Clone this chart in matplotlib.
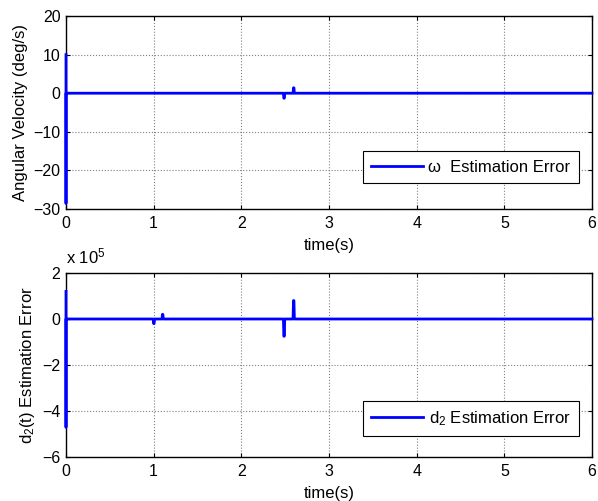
import numpy as np
import matplotlib.pyplot as plt

plt.rcParams['font.family'] = ['Liberation Sans', 'DejaVu Sans']
plt.rcParams['mathtext.fontset'] = 'custom'
plt.rcParams['mathtext.rm'] = 'Liberation Sans'
plt.rcParams['mathtext.it'] = 'Liberation Sans'

# omega estimation error (deg/s): mostly zero, transients at start and around t=2.5
omega_t = [0.0, 0.0, 0.0, 0.005, 2.48, 2.485, 2.49, 2.495, 2.59, 2.595, 2.60, 2.605, 6.0]
omega_err = [10.0, -28.5, 0.0, 0.0, 0.0, -1.3, -1.3, 0.0, 0.0, 1.4, 1.4, 0.0, 0.0]

# d2 estimation error (x 1e5): transients at start, t~1.0/1.1 and t~2.5/2.6
d2_t = [0.0, 0.0, 0.0, 0.005, 0.995, 1.0, 1.005, 1.01, 1.095, 1.10, 1.105, 1.11,
        2.48, 2.485, 2.49, 2.495, 2.59, 2.595, 2.60, 2.605, 6.0]
d2_err = [1.2, -4.7, 0.0, 0.0, 0.0, -0.2, -0.2, 0.0, 0.0, 0.2, 0.2, 0.0,
          0.0, -0.75, -0.75, 0.0, 0.0, 0.8, 0.8, 0.0, 0.0]

omega_yticks = [-30, -20, -10, 0, 10, 20]
d2_yticks = [-6, -4, -2, 0, 2]
x_ticks = [0, 1, 2, 3, 4, 5, 6]

TICK_FS = 11.5
LABEL_FS = 12


def style_axes(ax):
    ax.set_xlim(0, 6)
    ax.set_xticks(x_ticks)
    ax.grid(True, color='#808080', linestyle=':', linewidth=0.8)
    ax.tick_params(direction='in', top=True, right=True, labelsize=TICK_FS, length=3)
    ax.tick_params(axis='x', pad=5)
    ax.tick_params(axis='y', pad=4)
    for s in ax.spines.values():
        s.set_linewidth(1.0)
    ax.set_xlabel('time(s)', fontsize=LABEL_FS, labelpad=5)


def add_legend(ax, anchor):
    leg = ax.legend(loc='lower right', fontsize=LABEL_FS, fancybox=False, framealpha=1,
                    edgecolor='black', handlelength=3.1, handletextpad=0.35,
                    borderaxespad=0, borderpad=0.5, bbox_to_anchor=anchor)
    leg.get_frame().set_linewidth(0.8)
    return leg


fig = plt.figure(figsize=(5.98, 5.01), dpi=100)
ax1 = fig.add_axes([66 / 598, 1 - 209 / 501, 526 / 598, 193 / 501])
ax2 = fig.add_axes([66 / 598, 1 - 457 / 501, 526 / 598, 184 / 501])

ax1.plot(omega_t, omega_err, color='#0000ff', linewidth=2, clip_on=False, zorder=3,
         label='ω  Estimation Error')
ax1.set_ylim(-30, 20)
ax1.set_yticks(omega_yticks)
style_axes(ax1)
ax1.set_ylabel('Angular Velocity (deg/s)', fontsize=LABEL_FS, labelpad=4)
add_legend(ax1, (0.975, 0.135))

ax2.plot(d2_t, d2_err, color='#0000ff', linewidth=2, clip_on=False, zorder=3,
         label='d$_2$ Estimation Error')
ax2.set_ylim(-6, 2)
ax2.set_yticks(d2_yticks)
style_axes(ax2)
ax2.set_ylabel('d$_2$(t) Estimation Error', fontsize=LABEL_FS, labelpad=4)
ax2.text(0, 1.035, 'x 10$^5$', transform=ax2.transAxes, fontsize=LABEL_FS,
         ha='left', va='bottom')
add_legend(ax2, (0.975, 0.114))

fig.savefig('out.png', dpi=100)
